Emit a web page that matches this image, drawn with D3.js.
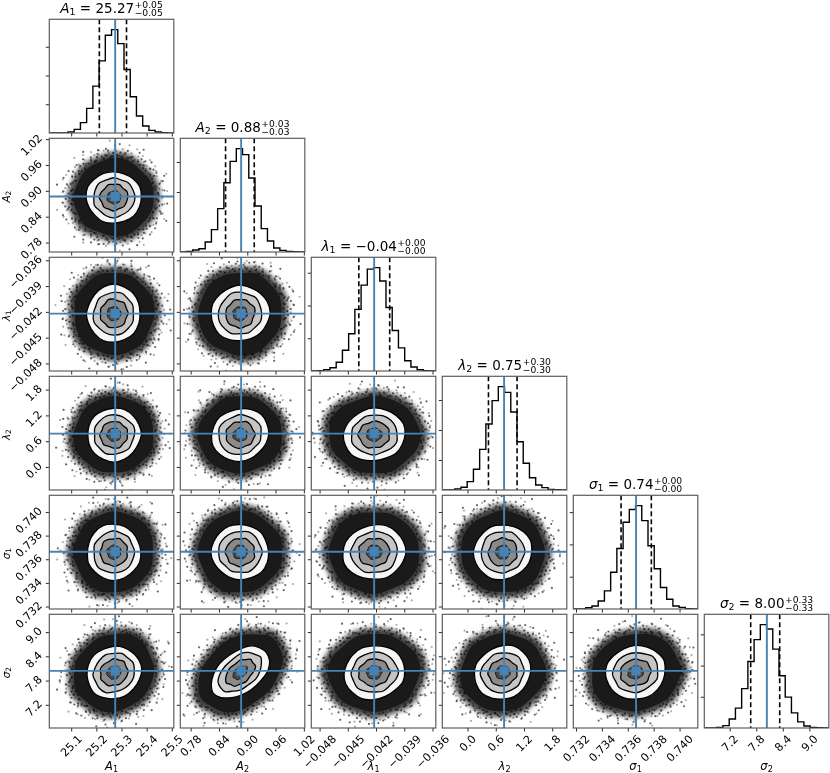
<!DOCTYPE html>
<html><head><meta charset="utf-8">
<script src="https://cdnjs.cloudflare.com/ajax/libs/d3/7.8.5/d3.min.js"></script>
<style>html,body{margin:0;padding:0;background:#fff}svg{display:block;font-family:"DejaVu Sans";filter:blur(.42px)}</style>
</head><body><svg id="c" width="830" height="773"></svg>
<script>
// ---------- data ----------
const symbols = ["A","A","λ","λ","σ","σ"];
const subscripts = ["1","2","1","2","1","2"];
const domains = [[25.013,25.508],[0.758,1.022],[-0.04888,-0.03565],[-0.536,2.11],[0.73179,0.74141],[6.626,9.44]];
const truths = [25.275,0.887,-0.0422,0.777,0.73664,8.04];
const means = [25.27,0.885,-0.0422,0.75,0.7366,8.0];
const sigmas = [0.054,0.0303,0.00164,0.304,0.00117,0.327];
const lowQ = [25.212,0.854,-0.04383,0.445,0.73548,7.675];
const highQ = [25.32,0.9148,-0.04055,1.053,0.73782,8.33];
const titleMain = ["25.27","0.88","−0.04","0.75","0.74","8.00"];
const titleErr = ["0.05","0.03","0.00","0.30","0.00","0.33"];
const tickValues = [[25.1,25.2,25.3,25.4,25.5],[0.78,0.84,0.90,0.96,1.02],[-0.048,-0.045,-0.042,-0.039,-0.036],[0,0.6,1.2,1.8],[0.732,0.734,0.736,0.738,0.740],[7.2,7.8,8.4,9.0]];
const tickLabels = [["25.1","25.2","25.3","25.4","25.5"],["0.78","0.84","0.90","0.96","1.02"],["−0.048","−0.045","−0.042","−0.039","−0.036"],["0.0","0.6","1.2","1.8"],["0.732","0.734","0.736","0.738","0.740"],["7.2","7.8","8.4","9.0"]];
const histTicks = [20,40,60];
// counts (thousands) in the 20 bins of each marginal
const histA1 = [0,0,0,0.7,2.5,7.2,17.1,32.6,50.2,68,71.9,62.2,44.2,25.2,11.8,4.9,1.8,0.7,0.2,0];
const histA2 = [0,0.4,1.3,2.2,6.7,14.9,28.9,46.2,60.4,68.9,64.9,49.3,30.7,15.6,7.3,2.7,1.1,0.4,0.2,0];
const histL1 = [0,0.2,0.8,2,5.3,12.7,22.7,37.6,52.4,62.2,63.1,54.9,38.8,24.7,14.1,6.3,2.4,0.8,0.2,0];
const histL2 = [0,0.1,0.7,1.8,5.6,13.8,27.1,44,59.6,68.9,65.1,52,32.2,17.8,8.2,3.3,1.6,0.4,0.2,0];
const histS1 = [0,0.1,0.8,1.9,5,11.2,22.8,37.5,53.7,61.6,64,54.7,39.2,24.9,13.3,6,1.9,1,0.2,0];
const histS2 = [0,0,0.4,1.5,5.8,12.7,25.2,42.6,56.6,66.2,63.4,50.5,33.5,19.8,9.7,3.9,1.3,0.4,0.2,0];
const hists = [histA1,histA2,histL1,histL2,histS1,histS2];
// contour outlines: radius in sigma units at 16 equally spaced bearings
const cloudEdge = [3.05,3.1,2.98,3.12,3.16,3.02,3.08,3.0,3.12,3.06,3.16,3.0,3.1,3.14,3.02,3.08];
const level20 = [2.02,2.05,1.98,1.92,1.95,2.0,2.02,2.1,2.05,1.98,1.95,2.02,1.98,2.0,2.06,2.03];
const level15 = [1.55,1.5,1.52,1.42,1.5,1.45,1.55,1.5,1.48,1.55,1.45,1.52,1.58,1.48,1.5,1.53];
const level10 = [1.02,1.05,0.95,1.05,0.98,1.06,0.95,1.02,1.08,0.96,1.04,0.98,1.05,0.95,1.03,1.0];
const level05 = [0.5,0.52,0.48,0.55,0.5,0.46,0.52,0.5,0.48,0.55,0.5,0.47,0.52,0.5,0.54,0.49];
// correlation (contours, cloud) and outline rotation of each lower-triangle panel, row by row
const panelRho = [0.02, 0.02,0.03, 0.03,0.04,0.02, 0.03,0.02,0.02,0.02, 0.12,0.45,0.05,0.08,0.1];
const cloudRho = [0.0, 0.0,0.02, 0.02,0.02,0.0, 0.02,0.0,0.0,0.0, 0.08,0.32,0.03,0.05,0.07];
const panelTurn = [0,3,7,11,5,13,2,9,14,6,1,8,12,4,10];
// scattered outliers: [bearing in degrees, radius in sigma units]
const specks = [[3,3.3],[8,3.75],[11,3.1],[17,3.5],[21,3.05],[24,4.05],[29,3.4],[33,3.2],[36,3.6],[41,3.1],[44,3.85],[48,3.3],[52,3.15],[55,3.55],[59,4.25],[63,3.1],[66,3.4],[71,3.2],[74,3.7],[78,3.05],[82,3.45],[86,3.25],[89,3.95],[93,3.15],[97,3.6],[101,3.3],[104,3.05],[108,3.8],[112,3.35],[115,3.1],[119,3.5],[123,4.15],[126,3.2],[131,3.4],[134,3.05],[138,3.7],[142,3.3],[145,3.15],[149,3.9],[153,3.45],[156,3.1],[160,3.25],[164,3.6],[167,4.3],[171,3.2],[175,3.35],[178,3.05],[182,3.55],[186,3.8],[189,3.15],[193,3.4],[197,3.25],[200,4.0],[204,3.1],[208,3.5],[211,3.3],[215,3.05],[219,3.7],[222,3.4],[226,4.2],[229,3.2],[233,3.6],[237,3.1],[240,3.35],[244,3.85],[248,3.25],[251,3.45],[255,3.05],[258,3.65],[262,3.3],[266,4.35],[269,3.15],[273,3.55],[277,3.2],[280,3.75],[284,3.4],[288,3.1],[291,3.6],[295,4.05],[298,3.25],[302,3.35],[306,3.05],[309,3.5],[313,3.9],[317,3.2],[320,3.45],[324,3.15],[327,3.7],[331,3.3],[335,4.25],[338,3.1],[342,3.6],[346,3.25],[349,3.4],[353,3.95],[357,3.15],
[1,3.55],[6,3.25],[14,3.05],[19,3.8],[27,3.15],[31,3.65],[39,3.45],[46,3.1],[50,3.6],[57,3.25],[61,3.9],[68,3.3],[76,3.5],[80,3.15],[84,4.1],[91,3.4],[95,3.05],[99,3.75],[106,3.25],[110,3.55],[117,3.05],[121,3.3],[128,3.7],[136,3.45],[140,3.1],[147,3.6],[151,3.25],[158,4.0],[162,3.35],[169,3.1],[173,3.75],[180,3.3],[184,3.05],[191,3.65],[195,3.5],[202,3.2],[206,3.9],[213,3.4],[217,3.15],[224,3.6],[231,3.3],[235,3.95],[242,3.1],[246,3.55],[253,3.75],[260,3.2],[264,3.45],[271,3.7],[275,3.05],[282,3.35],[286,4.15],[293,3.3],[300,3.6],[304,3.8],[311,3.25],[315,3.4],[322,3.85],[329,3.1],[333,3.55],[340,3.7],[344,3.2],[351,3.6],[355,3.3],[359,4.45]];
const quantileDash = "5,3";

// ---------- layout ----------
const left0=49.3, top0=19.3, stepX=131, stepY=119, W=124.5, H=113.7;
const BLUE="#4682b4", FRAME="#5e5e5e";
const svg=d3.select("#c");
const xs=domains.map((d,i)=>d3.scaleLinear().domain(d).range([left0+stepX*i,left0+stepX*i+W]));
const ys=domains.map((d,i)=>d3.scaleLinear().domain(d).range([top0+stepY*i+H,top0+stepY*i]));
const defs=svg.append("defs");
defs.append("filter").attr("id","fuzz").attr("x","-30%").attr("y","-30%").attr("width","160%").attr("height","160%")
  .append("feGaussianBlur").attr("stdDeviation",2.6);

function rx(i){return xs[i].range()[0];}
function clipFor(id,x,y){defs.append("clipPath").attr("id",id).append("rect").attr("x",x).attr("y",y).attr("width",W).attr("height",H);return `url(#${id})`;}

function frame(x,y){svg.append("rect").attr("x",x).attr("y",y).attr("width",W).attr("height",H).attr("fill","none").attr("stroke",FRAME).attr("stroke-width",1.2);}
function axes(c,r,xscale,yscale,yTicks){
  const ax=svg.append("g").attr("transform",`translate(0,${top0+stepY*r+H})`)
    .call(d3.axisBottom(xscale).tickValues(tickValues[c]).tickSize(3.5).tickFormat(""));
  ax.select(".domain").remove(); ax.selectAll("line").attr("stroke","#111").attr("stroke-width",.9);
  const ay=svg.append("g").attr("transform",`translate(${rx(c)},0)`)
    .call(d3.axisLeft(yscale).tickValues(yTicks).tickSize(3.5).tickFormat(""));
  ay.select(".domain").remove(); ay.selectAll("line").attr("stroke","#111").attr("stroke-width",.9);
}
function outline(radii,turn,c,r,rho,scale){
  const n=radii.length, pts=radii.map((_,k)=>{
    const rad=radii[(k+turn)%n]*(scale||1), a=k/n*2*Math.PI;
    const u=rad*Math.cos(a), v=rad*Math.sin(a);
    return [xs[c](means[c]+sigmas[c]*u), ys[r](means[r]+sigmas[r]*(rho*u+Math.sqrt(1-rho*rho)*v))];
  });
  return d3.line().curve(d3.curveCatmullRomClosed.alpha(.5))(pts);
}

let idx=0;
for(let r=0;r<6;r++){
  for(let c=0;c<=r;c++){
    const x=rx(c), y=top0+stepY*r;
    if(c===r){
      const yScale=d3.scaleLinear().domain([0,1.1*d3.max(hists[c])]).range([y+H,y]);
      const dom=domains[c], bw=(dom[1]-dom[0])/20;
      const pts=[];
      hists[c].forEach((v,k)=>{pts.push([dom[0]+k*bw,v]);pts.push([dom[0]+(k+1)*bw,v]);});
      const g=svg.append("g").attr("clip-path",clipFor("h"+c,x,y));
      g.append("path").attr("d",d3.line().x(d=>xs[c](d[0])).y(d=>yScale(d[1]))(pts)).attr("fill","none").attr("stroke","#000").attr("stroke-width",1.4);
      [lowQ[c],highQ[c]].forEach(q=>g.append("line").attr("x1",xs[c](q)).attr("x2",xs[c](q)).attr("y1",y).attr("y2",y+H).attr("stroke","#000").attr("stroke-width",1.6).attr("stroke-dasharray",quantileDash));
      g.append("line").attr("x1",xs[c](truths[c])).attr("x2",xs[c](truths[c])).attr("y1",y).attr("y2",y+H).attr("stroke",BLUE).attr("stroke-width",1.9);
      axes(c,r,xs[c],yScale,histTicks);
      frame(x,y);
    } else {
      const rho=panelRho[idx], rhoC=cloudRho[idx], turn=panelTurn[idx]; idx++;
      const g=svg.append("g").attr("clip-path",clipFor("p"+r+c,x,y));
      const phase=turn*26;
      g.append("path").attr("d",outline(cloudEdge,turn,c,r,rhoC,1.1)).attr("fill","#111").attr("opacity",.8).attr("filter","url(#fuzz)");
      g.append("path").attr("d",outline(cloudEdge,turn,c,r,rhoC,.96)).attr("fill","#1a1a1a");
      [1,-1].forEach(sign=>{
        g.append("g").selectAll("circle").data(specks).join("circle")
          .attr("cx",d=>xs[c](means[c]+sigmas[c]*d[1]*Math.cos((sign*d[0]+phase)*Math.PI/180)))
          .attr("cy",d=>{const a=(sign*d[0]+phase)*Math.PI/180,u=d[1]*Math.cos(a),v=d[1]*Math.sin(a);
            return ys[r](means[r]+sigmas[r]*(rhoC*u+Math.sqrt(1-rhoC*rhoC)*v));})
          .attr("r",1.1).attr("fill","#000").attr("opacity",sign>0?.6:.32);
      });
      g.append("path").attr("d",outline(level20,turn,c,r,rho)).attr("fill","#f6f6f6").attr("stroke","#000").attr("stroke-width",1.3);
      g.append("path").attr("d",outline(level15,turn,c,r,rho)).attr("fill","#c6c6c6").attr("stroke","#000").attr("stroke-width",1.3);
      g.append("path").attr("d",outline(level10,turn,c,r,rho)).attr("fill","#8a8a8a").attr("stroke","#000").attr("stroke-width",1.3);
      g.append("path").attr("d",outline(level05,turn,c,r,rho)).attr("fill","#4a4a4a").attr("stroke","#111").attr("stroke-width",.9);
      const tx=xs[c](truths[c]), ty=ys[r](truths[r]);
      g.append("line").attr("x1",tx).attr("x2",tx).attr("y1",y).attr("y2",y+H).attr("stroke",BLUE).attr("stroke-width",1.9);
      g.append("line").attr("x1",x).attr("x2",x+W).attr("y1",ty).attr("y2",ty).attr("stroke",BLUE).attr("stroke-width",1.9);
      g.append("rect").attr("x",tx-4.6).attr("y",ty-4.6).attr("width",9.2).attr("height",9.2).attr("fill",BLUE);
      axes(c,r,xs[c],ys[r],tickValues[r]);
      frame(x,y);
    }
  }
}

// tick labels
const TICK=11.2;
function rotLabel(text,px,py,mode){
  const t=svg.append("text").attr("font-size",TICK).attr("text-anchor","middle").attr("dy",".36em").attr("fill","#000").text(text);
  const w=t.node().getComputedTextLength(), b=(w+.73*TICK)*.7071;
  const cx= mode==="x"? px : px-6.5-b/2;
  const cy= mode==="x"? py+6+b/2 : py-6+b/2;
  t.attr("transform",`translate(${cx},${cy}) rotate(-45)`);
}
const bottomY=top0+stepY*5+H;
for(let c=0;c<6;c++) tickValues[c].forEach((v,k)=>rotLabel(tickLabels[c][k],xs[c](v),bottomY,"x"));
for(let r=1;r<6;r++) tickValues[r].forEach((v,k)=>rotLabel(tickLabels[r][k],left0,ys[r](v),"y"));

// math text helper
function symbolText(sel,i,size){
  sel.append("tspan").attr("font-style","italic").attr("font-size",size).text(symbols[i]);
  sel.append("tspan").attr("font-size",size*.7).attr("dy",size*.15).text(subscripts[i]);
}
// axis labels
for(let i=0;i<6;i++){
  const t=svg.append("text").attr("text-anchor","middle").attr("transform",`translate(${rx(i)+W/2},770)`);
  symbolText(t,i,11.5);
  if(i>0){
    const yl=svg.append("text").attr("text-anchor","middle").attr("transform",`translate(9.5,${top0+stepY*i+H/2+1.5}) rotate(-90)`);
    symbolText(yl,i,10.5);
  }
}
// titles
const TS=13.5, ES=9.2;
for(let i=0;i<6;i++){
  const cx=rx(i)+W/2, base=top0+stepY*i-6.6;
  const t=svg.append("text").attr("font-size",TS);
  symbolText(t,i,TS);
  t.append("tspan").attr("dy",-TS*.15).attr("font-size",TS).text(" = "+titleMain[i]);
  t.attr("xml:space","preserve").style("white-space","pre");
  const w=t.node().getComputedTextLength();
  const up=svg.append("text").attr("font-size",ES).text("+"+titleErr[i]);
  const dn=svg.append("text").attr("font-size",ES).text("−"+titleErr[i]);
  const ew=Math.max(up.node().getComputedTextLength(),dn.node().getComputedTextLength());
  const start=cx-(w+ew+.5)/2;
  t.attr("x",start).attr("y",base);
  up.attr("x",start+w+.5).attr("y",base-5.2);
  dn.attr("x",start+w+.5).attr("y",base+3.6);
}
</script></body></html>
